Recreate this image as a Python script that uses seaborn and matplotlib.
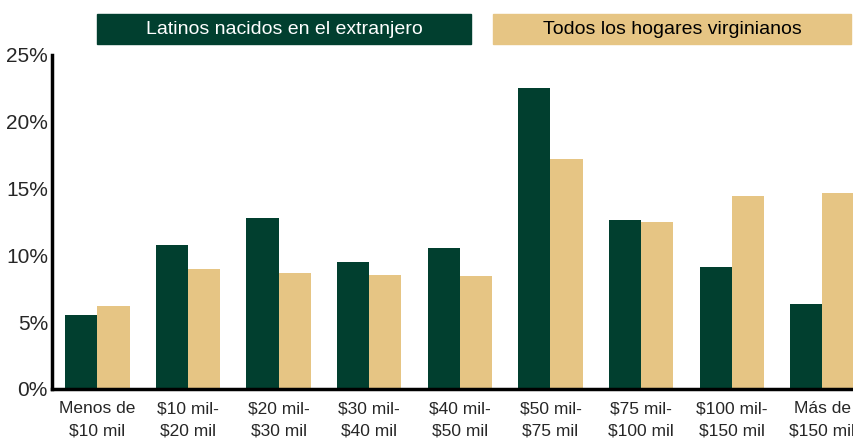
import pandas as pd
import matplotlib.pyplot as plt
import seaborn as sns
from matplotlib.patches import Rectangle

categorias = ["Menos de\n$10 mil", "$10 mil-\n$20 mil", "$20 mil-\n$30 mil", "$30 mil-\n$40 mil",
              "$40 mil-\n$50 mil", "$50 mil-\n$75 mil", "$75 mil-\n$100 mil", "$100 mil-\n$150 mil",
              "Más de\n$150 mil"]
latinos = [5.5, 10.8, 12.8, 9.5, 10.55, 22.5, 12.65, 9.1, 6.35]
virginia = [6.2, 9.0, 8.7, 8.55, 8.45, 17.2, 12.5, 14.45, 14.7]
series = ["Latinos nacidos en el extranjero", "Todos los hogares virginianos"]
colores = ["#013f2f", "#e6c584"]

df = pd.DataFrame({
    "cat": categorias * 2,
    "valor": latinos + virginia,
    "serie": [series[0]] * len(latinos) + [series[1]] * len(virginia),
})

sns.set_style("white")
plt.rcParams["font.family"] = ["Liberation Sans Narrow", "Liberation Sans", "DejaVu Sans"]

fig = plt.figure(figsize=(8.54, 4.4), dpi=100)
ax = fig.add_axes([0.061, 0.116, 0.939, 0.759])

sns.barplot(data=df, x="cat", y="valor", hue="serie", palette=colores,
            width=0.71, gap=0, saturation=1, legend=False, linewidth=0, ax=ax)

ax.set_xlim(-0.5, 8.35)
ax.set_ylim(0, 25)
ax.set_yticks([0, 5, 10, 15, 20, 25])
ax.set_yticklabels(["0%", "5%", "10%", "15%", "20%", "25%"], fontsize=15)
ax.tick_params(axis="x", labelsize=12.5, length=0, pad=9)
ax.tick_params(axis="y", length=0, pad=3)
for lbl in ax.get_xticklabels():
    lbl.set_linespacing(1.6)
ax.set_xlabel("")
ax.set_ylabel("")
for s in ["top", "right"]:
    ax.spines[s].set_visible(False)
for s in ["left", "bottom"]:
    ax.spines[s].set_color("black")
    ax.spines[s].set_linewidth(2.5)

# legend boxes at top
fig.patches.append(Rectangle((97 / 854, 1 - 44 / 440), 374 / 854, 30 / 440,
                             transform=fig.transFigure, color=colores[0]))
fig.patches.append(Rectangle((493 / 854, 1 - 44 / 440), 358 / 854, 30 / 440,
                             transform=fig.transFigure, color=colores[1]))
fig.text(284 / 854, 1 - 29 / 440, series[0], color="white", fontsize=14, ha="center", va="center")
fig.text(672 / 854, 1 - 29 / 440, series[1], color="black", fontsize=14, ha="center", va="center")

fig.savefig("out.png", dpi=100)
